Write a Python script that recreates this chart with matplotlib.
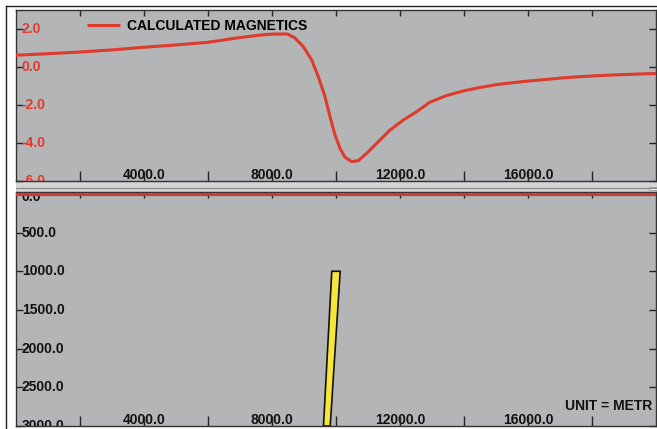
import matplotlib
matplotlib.use("Agg")
import matplotlib.pyplot as plt
from matplotlib.patches import Polygon, Rectangle
from matplotlib.lines import Line2D
from matplotlib.ticker import FixedLocator
import matplotlib.transforms as mtransforms

# ---------------- data ----------------
dist = [0, 1000, 2000, 3000, 4000, 5000, 6000, 7000, 7630, 8000, 8470, 8700,
        8979, 9240, 9448, 9656, 9813, 9969, 10125, 10281, 10490, 10698, 10958,
        11271, 11688, 12104, 12521, 12938, 13460, 14000, 14500, 15000, 15500,
        16000, 16600, 17100, 17600, 18150, 18650, 19300, 20000]
mag = [0.62, 0.70, 0.79, 0.90, 1.04, 1.16, 1.30, 1.55, 1.68, 1.73, 1.74, 1.55,
       1.07, 0.37, -0.51, -1.56, -2.61, -3.58, -4.28, -4.75, -4.98, -4.93, -4.54,
       -4.02, -3.32, -2.79, -2.35, -1.85, -1.50, -1.25, -1.08, -0.93, -0.83,
       -0.74, -0.65, -0.57, -0.51, -0.46, -0.42, -0.38, -0.34]

dike_x = [9868, 10131, 9819, 9609]
dike_depth = [1000, 1000, 3000, 3000]

x_ticks = [2000, 4000, 6000, 8000, 10000, 12000, 14000, 16000, 18000]
x_labels = {4000: "4000.0", 8000: "8000.0", 12000: "12000.0", 16000: "16000.0"}
mag_ticks = [2.0, 0.0, -2.0, -4.0, -6.0]
mag_labels = ["2.0", "0.0", "-2.0", "-4.0", "-6.0"]
depth_ticks = [0, 500, 1000, 1500, 2000, 2500, 3000]
depth_labels = ["0.0", "500.0", "1000.0", "1500.0", "2000.0", "2500.0", "3000.0"]

# ---------------- style ----------------
W, H = 657, 429
BG = "#b4b5b7"
RED = "#e03a2c"
FONT = "Liberation Sans"
FS = 10

fig = plt.figure(figsize=(W / 100, H / 100), dpi=100)
fig.patch.set_facecolor("white")

ax1 = fig.add_axes([16 / W, (H - 181) / H, 640 / W, 171 / H])
ax2 = fig.add_axes([16 / W, (H - 426) / H, 640 / W, (426 - 192) / H])

# separator band between panels
fig.add_artist(Rectangle((16 / W, (H - 192) / H), 641 / W, 11 / H,
                         transform=fig.transFigure, facecolor="#d4d4d4",
                         edgecolor="none", zorder=0))
fig.add_artist(Line2D([16 / W, 1], [(H - 188) / H] * 2, transform=fig.transFigure,
                      color="#8a8a8a", lw=0.8))
fig.add_artist(Rectangle((649 / W, (H - 190) / H), 8 / W, 3 / H,
                         transform=fig.transFigure, facecolor="#f0f0f0",
                         edgecolor="#909090", lw=0.5))
# outer frame
fig.add_artist(Line2D([6 / W, 6 / W], [0, (H - 6) / H], transform=fig.transFigure,
                      color="#222222", lw=1.0))
fig.add_artist(Line2D([6 / W, 1], [(H - 6) / H] * 2, transform=fig.transFigure,
                      color="#222222", lw=1.0))

for ax in (ax1, ax2):
    ax.set_facecolor(BG)
    ax.set_xlim(0, 20000)
    for s in ax.spines.values():
        s.set_color("#333333")
        s.set_linewidth(1.0)
    ax.xaxis.remove_overlapping_locs = False
    ax.set_xticks(x_ticks)
    ax.xaxis.set_minor_locator(FixedLocator(x_ticks))
    ax.tick_params(axis="x", which="major", direction="in", length=7, width=1,
                   color="#222222", bottom=True, top=False, labelbottom=False)
    ax.tick_params(axis="x", which="minor", direction="in", length=4, width=1,
                   color="#222222", bottom=False, top=True, labelbottom=False)
    ax.tick_params(axis="y", which="major", direction="in", length=5, width=1,
                   color="#222222", left=True, right=True, labelleft=False)
    xt = mtransforms.blended_transform_factory(ax.transData, ax.transAxes)
    bb = ax.get_position()
    off = (2.5 if ax is ax1 else 1.5) / (bb.height * H)
    for xv, lab in x_labels.items():
        ax.text(xv, off, lab, transform=xt, ha="center", va="baseline",
                fontsize=FS, fontweight="bold", family=FONT, color="#111111",
                zorder=1)

# ---------------- top panel ----------------
ax1.set_ylim(-6, 3)
ax1.set_yticks(mag_ticks)
ax1.plot(dist, mag, color=RED, lw=2.2, label="CALCULATED MAGNETICS", zorder=3,
         solid_capstyle="butt", solid_joinstyle="round")
yt1 = mtransforms.blended_transform_factory(ax1.transAxes, ax1.transData)
for v, lab in zip(mag_ticks, mag_labels):
    ax1.text(6 / 640, v, lab, transform=yt1, ha="left", va="center",
             fontsize=FS, fontweight="bold", family=FONT, color=RED,
             clip_on=True)
leg = ax1.legend(loc="upper left", bbox_to_anchor=(71 / 640, 1 - 9 / 171),
                 frameon=False, borderpad=0, borderaxespad=0,
                 handlelength=2.4, handletextpad=0.5,
                 prop={"family": FONT, "weight": "bold", "size": FS})

# ---------------- bottom panel ----------------
ax2.set_ylim(3000, -25)
ax2.set_yticks(depth_ticks)
ax2.add_patch(Polygon(list(zip(dike_x, dike_depth)), closed=True,
                      facecolor="#f8e53a", edgecolor="#111111", lw=1.2,
                      zorder=3))
ax2.axhline(0, color="#cc3b36", lw=2.3, zorder=4)
yt2 = mtransforms.blended_transform_factory(ax2.transAxes, ax2.transData)
for v, lab in zip(depth_ticks, depth_labels):
    tr = yt2
    if v == 0:
        tr = yt2 + mtransforms.ScaledTranslation(0, -3 / 100, fig.dpi_scale_trans)
    ax2.text(6 / 640, v, lab, transform=tr, ha="left", va="center",
             fontsize=FS, fontweight="bold", family=FONT, color="#111111",
             clip_on=True, zorder=2)
ax2.text(1 - 4 / 640, 16 / 234, "UNIT = METR", transform=ax2.transAxes,
         ha="right", va="baseline", fontsize=FS, fontweight="bold",
         family=FONT, color="#111111")

fig.savefig("out.png", dpi=100, facecolor="white")
